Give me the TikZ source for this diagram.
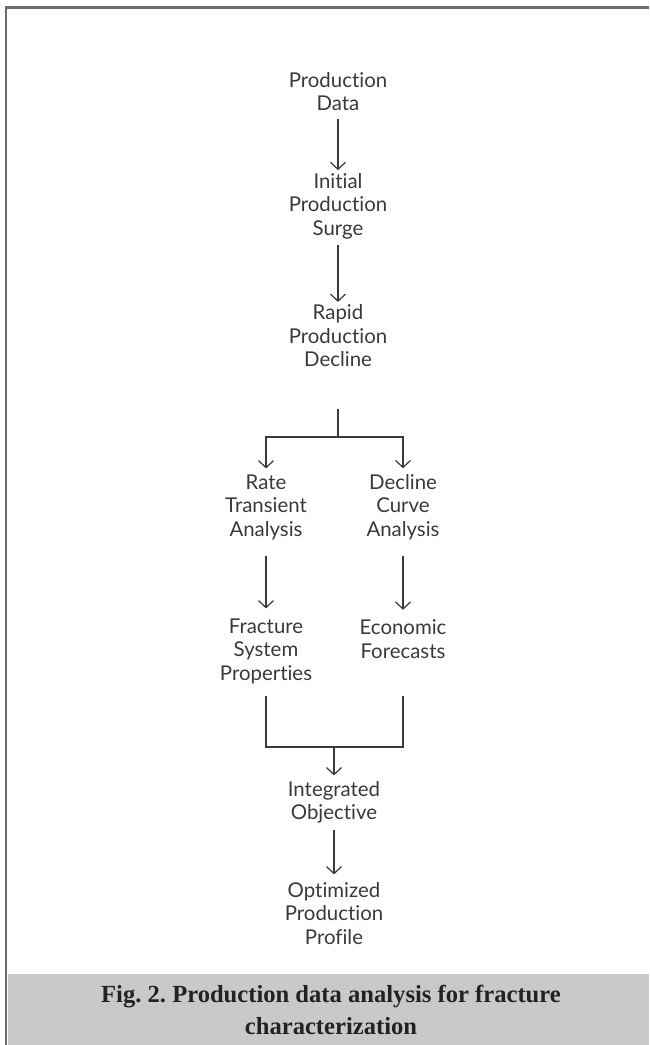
\documentclass[tikz,border=0pt]{standalone}
\usepackage{fontspec}
\setmainfont{Lato}[Ligatures={NoCommon,NoDiscretionary,NoRare}]
\newfontfamily\capfont{Liberation Serif}
\usetikzlibrary{arrows.meta}
\definecolor{txt}{HTML}{3A3A3A}
\definecolor{framecol}{HTML}{6B6B6B}
\definecolor{band}{HTML}{C8C9CB}
\definecolor{captxt}{HTML}{222222}
\frenchspacing
\begin{document}
\begin{tikzpicture}[x=0.5pt,y=-0.5pt,
  lbl/.style={font=\fontsize{10.2}{11.75}\selectfont, text=txt, align=center, inner sep=0pt, outer sep=3pt},
  arr/.style={draw=txt, line width=0.6pt, -{Straight Barb[length=3.5pt,width=7.5pt]}},
  ln/.style={draw=txt, line width=0.6pt}]
\useasboundingbox (0,0) rectangle (649,1045);
\fill[white] (0,0) rectangle (649,1045);
\fill[band] (7.5,974) rectangle (649,1045);
\draw[framecol, line width=1.25pt] (6,1045) -- (6,7.5) -- (649,7.5);

\node[lbl] (pd) at (338,91.5) {Production\\Data};
\node[lbl] (ips) at (338,206) {Initial\\Production\\Surge};
\node[lbl] (rpd) at (338,336) {Rapid\\Production\\Decline};
\node[lbl] (rta) at (266,507) {Rate\\Transient\\Analysis};
\node[lbl] (dca) at (403,507) {Decline\\Curve\\Analysis};
\node[lbl] (fsp) at (266,651) {Fracture\\System\\Properties};
\node[lbl] (ef) at (403,639) {Economic\\Forecasts};
\node[lbl] (io) at (334,802.5) {Integrated\\Objective};
\node[lbl] (opp) at (334,913.5) {Optimized\\Production\\Profile};

\draw[arr, shorten <=1pt, shorten >=-1.5pt] (pd) -- (ips);
\draw[arr, shorten >=-1.5pt] (ips) -- (rpd);
\coordinate (b1) at (338,437);
\draw[ln, shorten <=18pt] (rpd) -- (b1);
\draw[arr] (b1) -| (rta);
\draw[arr] (b1) -| (dca);
\draw[arr, shorten <=5pt, shorten >=2pt] (rta) -- (fsp);
\draw[arr, shorten <=5pt, shorten >=2pt] (dca) -- (ef);
\coordinate (m1) at (334,747);
\draw[ln, shorten <=3pt] (fsp.south) -- (fsp.south |- m1) -- (m1);
\draw[ln, shorten <=3pt] (fsp.south -| ef) -- (ef |- m1) -- (m1);
\draw[arr] (m1) -- (io);
\draw[arr, shorten >=1pt] (io) -- (opp);

\node[font=\capfont\bfseries\fontsize{12.3}{16}\selectfont, text=captxt, align=center] (cap) at (331,1010) {Fig. 2. Production data analysis for fracture\\characterization};
\end{tikzpicture}
\end{document}
